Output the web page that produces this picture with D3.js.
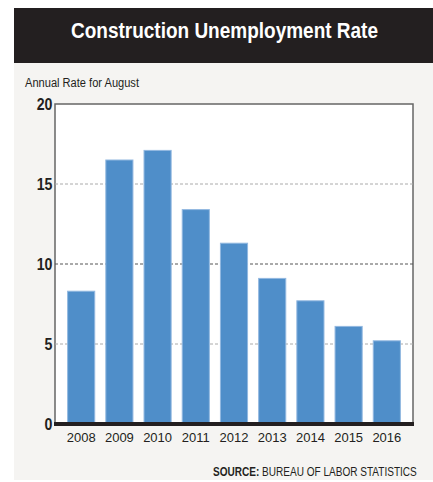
<!DOCTYPE html>
<html>
<head>
<meta charset="utf-8">
<script src="https://cdn.jsdelivr.net/npm/d3@7"></script>
<style>
  body { margin: 0; background: #fff; }
  svg { display: block; }
  text { font-family: "Liberation Sans", Arial, sans-serif; }
</style>
</head>
<body>
<svg id="chart"></svg>
<script>
const width = 433;
const height = 482;

// values
const years = ["2008", "2009", "2010", "2011", "2012", "2013", "2014", "2015", "2016"];
const rates = [8.3, 16.5, 17.1, 13.4, 11.3, 9.1, 7.7, 6.1, 5.2];
const yTicks = [0, 5, 10, 15, 20];

const svg = d3.select("#chart")
    .attr("width", width)
    .attr("height", height);

// panel background + title bar
svg.append("rect")
    .attr("x", 14).attr("y", 8)
    .attr("width", width - 14).attr("height", 472)
    .attr("fill", "#f5f4f2");

svg.append("rect")
    .attr("x", 14).attr("y", 8)
    .attr("width", width - 14).attr("height", 55)
    .attr("fill", "#231f20");

// the original uses a condensed face, so squeeze the texts to their measured widths
svg.append("text")
    .attr("x", 71).attr("y", 38)
    .attr("fill", "#fff")
    .attr("textLength", 307)
    .attr("lengthAdjust", "spacingAndGlyphs")
    .style("font-size", "22px")
    .style("font-weight", "bold")
    .text("Construction Unemployment Rate");

svg.append("text")
    .attr("x", 25).attr("y", 87)
    .attr("fill", "#231f20")
    .attr("textLength", 114)
    .attr("lengthAdjust", "spacingAndGlyphs")
    .style("font-size", "12px")
    .text("Annual Rate for August");

const plotL = 55, plotR = 413, plotT = 104, plotB = 424;

const x = d3.scaleBand()
    .domain(years)
    .range([plotL, plotR])
    .paddingInner(0.29)
    .paddingOuter(0.33);

const y = d3.scaleLinear()
    .domain([0, 20])
    .range([plotB, plotT]);

// white plot area with frame
svg.append("rect")
    .attr("x", plotL).attr("y", plotT)
    .attr("width", plotR - plotL).attr("height", plotB - plotT)
    .attr("fill", "#fff")
    .attr("stroke", "#666")
    .attr("stroke-width", 1.5);

// gridlines
svg.append("g")
    .selectAll("line")
    .data(yTicks.filter(d => d > 0 && d < 20))
    .enter().append("line")
    .attr("x1", plotL).attr("x2", plotR)
    .attr("y1", d => y(d)).attr("y2", d => y(d))
    .attr("stroke", d => d === 10 ? "#555" : "#aaa")
    .attr("stroke-width", 1)
    .attr("stroke-dasharray", "3,2");

// bars
svg.append("g")
    .selectAll("rect")
    .data(rates)
    .enter().append("rect")
    .attr("x", (d, i) => x(years[i]))
    .attr("y", d => y(d))
    .attr("width", x.bandwidth())
    .attr("height", d => y(0) - y(d))
    .attr("fill", "#4f8ec9")
    .attr("stroke", "#92b8e0")
    .attr("stroke-width", 1);

// zero baseline
svg.append("line")
    .attr("x1", plotL - 1).attr("x2", plotR + 1)
    .attr("y1", y(0)).attr("y2", y(0))
    .attr("stroke", "#231f20")
    .attr("stroke-width", 4);

// y axis labels
const yAxis = d3.axisLeft(y).tickValues(yTicks).tickSize(0).tickPadding(3);
svg.append("g")
    .attr("transform", `translate(${plotL},0)`)
    .call(yAxis)
    .call(g => g.select(".domain").remove())
    .call(g => g.selectAll("text")
        .attr("fill", "#231f20")
        .attr("transform", "scale(0.86,1)")
        .style("font-size", "16.5px")
        .style("font-weight", "bold")
        .style("font-family", "\"Liberation Sans\", Arial, sans-serif"));

// x axis labels
const xAxis = d3.axisBottom(x).tickSize(0).tickPadding(9);
svg.append("g")
    .attr("transform", `translate(0,${plotB})`)
    .call(xAxis)
    .call(g => g.select(".domain").remove())
    .call(g => g.selectAll("text")
        .attr("fill", "#231f20")
        .style("font-size", "13px")
        .style("font-family", "\"Liberation Sans\", Arial, sans-serif"));

// source line, one text squeezed to the measured width (right edge at 417)
const srcG = svg.append("g");
const src = srcG.append("text")
    .attr("x", 0).attr("y", 0)
    .attr("fill", "#231f20")
    .style("font-size", "12.5px");
src.append("tspan").style("font-weight", "bold").text("SOURCE:");
src.append("tspan").text(" BUREAU OF LABOR STATISTICS");
const srcW = src.node().getComputedTextLength();
const k = 204 / srcW;
srcG.attr("transform", `translate(213,476) scale(${k},1)`);
</script>
</body>
</html>
